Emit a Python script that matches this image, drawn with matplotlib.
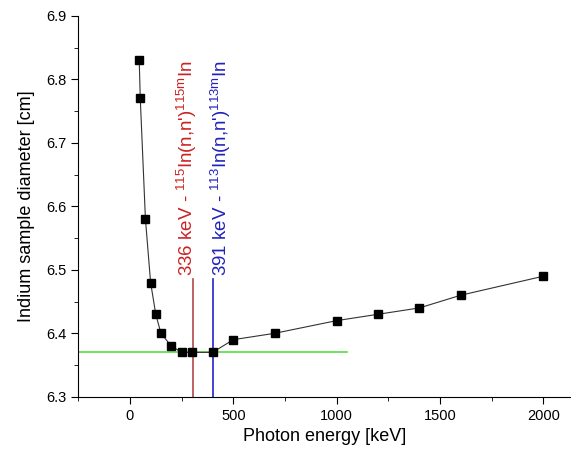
import matplotlib
matplotlib.use('Agg')
import matplotlib.pyplot as plt
from matplotlib.ticker import MultipleLocator

plt.rcParams['font.family'] = ['Liberation Sans', 'DejaVu Sans']
plt.rcParams['mathtext.fontset'] = 'custom'
plt.rcParams['mathtext.rm'] = 'Liberation Sans'

energy = [45, 50, 75, 100, 125, 150, 200, 250, 300, 400, 500, 700, 1000, 1200, 1400, 1600, 2000]
diameter = [6.83, 6.77, 6.58, 6.48, 6.43, 6.40, 6.38, 6.37, 6.37, 6.37, 6.39, 6.40, 6.42, 6.43, 6.44, 6.46, 6.49]

red_line_x = 305
blue_line_x = 403
lines_top = 6.485
green_y = 6.37
green_x = [-250, 1050]

fig = plt.figure(figsize=(5.71, 4.54), dpi=100)
ax = fig.add_axes([0.137, 0.126, 0.863, 0.839])

ax.plot(energy, diameter, color='#333333', lw=0.8, marker='s', ms=6,
        mfc='black', mec='black', zorder=3)
ax.plot(green_x, [green_y, green_y], color='#55dd44', lw=1.2, zorder=2)
ax.plot([red_line_x, red_line_x], [6.3, lines_top], color='#b04848', lw=1.2, zorder=2)
ax.plot([blue_line_x, blue_line_x], [6.3, lines_top], color='#2222cc', lw=1.2, zorder=2)

ax.text(red_line_x - 28, lines_top + 0.005,
        "336 keV - $\\mathregular{^{115}}$In(n,n')$\\mathregular{^{115m}}$In",
        rotation=90, color='#cc2222', fontsize=13.5, ha='center', va='bottom')
ax.text(blue_line_x + 36, lines_top + 0.005,
        "391 keV - $\\mathregular{^{113}}$In(n,n')$\\mathregular{^{113m}}$In",
        rotation=90, color='#2222bb', fontsize=13.5, ha='center', va='bottom')

ax.set_xlim(-250, 2133)
ax.set_ylim(6.3, 6.9)
ax.xaxis.set_major_locator(MultipleLocator(500))
ax.xaxis.set_minor_locator(MultipleLocator(250))
ax.yaxis.set_major_locator(MultipleLocator(0.1))
ax.yaxis.set_minor_locator(MultipleLocator(0.05))
ax.spines['top'].set_visible(False)
ax.spines['right'].set_visible(False)
ax.tick_params(which='major', length=5, labelsize=10.5)
ax.tick_params(which='minor', length=3)
ax.set_xlabel('Photon energy [keV]', fontsize=13)
ax.set_ylabel('Indium sample diameter [cm]', fontsize=13, labelpad=8)

fig.savefig('out.png', dpi=100)
